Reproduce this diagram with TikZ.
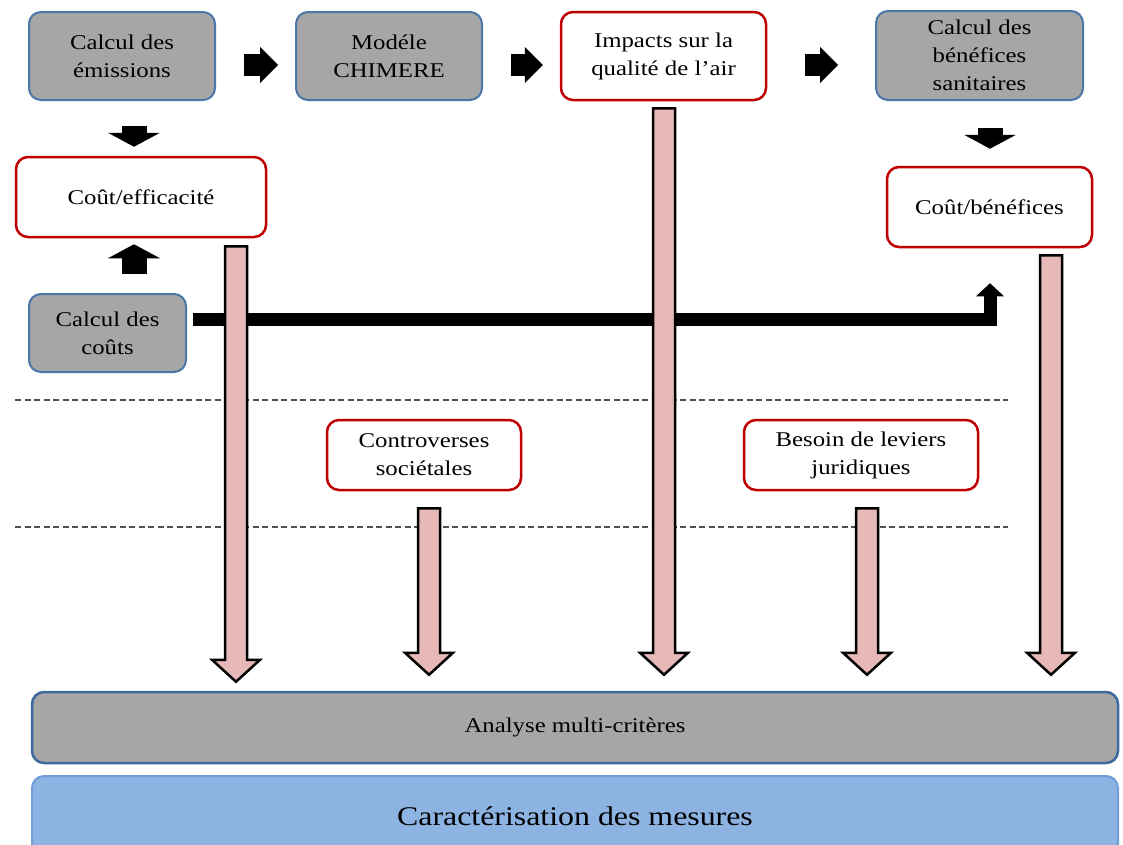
\documentclass[tikz,border=0pt]{standalone}
\usepackage{fontspec}
\setmainfont{Liberation Serif}[FakeStretch=1.18]
\usetikzlibrary{arrows.meta,calc}
\definecolor{boxgray}{HTML}{A6A6A6}
\definecolor{boxblue}{HTML}{4A76A8}
\definecolor{boxred}{HTML}{C00000}
\definecolor{pinkf}{HTML}{E6B9B8}
\definecolor{lightblue}{HTML}{8DB3E2}
\definecolor{lightblueb}{HTML}{6F9FD8}
\definecolor{darkblueb}{HTML}{3D6A9E}
\definecolor{dashgray}{HTML}{505050}
\newcommand\pinkarrow[2]{%
  \draw[pinkarr] ($(#1)+(-11,0)$) -- ($(#1)+(11,0)$) -- ($(#2)+(11,-22)$) -- ($(#2)+(24,-22)$)
    -- (#2) -- ($(#2)+(-24,-22)$) -- ($(#2)+(-11,-22)$) -- cycle;}
\begin{document}
\begin{tikzpicture}[x=1pt,y=-1pt,
  base/.style={rounded corners=12pt, align=center, inner sep=0pt, font=\fontsize{21}{28}\selectfont, text=black},
  graybox/.style={base, fill=boxgray, draw=boxblue, line width=2pt},
  redbox/.style={base, fill=white, draw=boxred, line width=2.5pt},
  rarrow/.style={draw=black, line width=22pt, -{Triangle[width=36pt,length=18pt,line width=0pt]}},
  darrow/.style={draw=black, line width=25pt, -{Triangle[width=52pt,length=14pt,line width=0pt]}},
  bline/.style={draw=black, line width=13pt, line join=miter, -{Triangle[width=28pt,length=13pt,line width=0pt]}},
  pinkarr/.style={fill=pinkf, draw=black, line width=2.5pt, line join=miter},
  dashline/.style={draw=dashgray, line width=1.5pt, dash pattern=on 6pt off 3.5pt}
]
\useasboundingbox (0,0) rectangle (1123,844);
\clip (0,0) rectangle (1123,844);

% top row
\node[graybox, minimum width=186pt, minimum height=88pt] (e) at (122,56) {Calcul des\\émissions};
\node[graybox, minimum width=186pt, minimum height=88pt] (m) at (389,56) {Modéle\\CHIMERE};
\node[redbox, minimum width=205pt, minimum height=88pt] (q) at (663.5,56) {Impacts sur la\\qualité de l’air};
\node[graybox, minimum width=207pt, minimum height=89pt] (b) at (979.5,55.5) {Calcul des\\bénéfices\\sanitaires};

% second row
\node[redbox, minimum width=250pt, minimum height=80pt] (ce) at (141,197) {Coût/efficacité};
\node[redbox, minimum width=205pt, minimum height=80pt] (cb) at (989.5,207) {Coût/bénéfices};
\node[graybox, minimum width=157pt, minimum height=78pt] (cc) at (107.5,333) {Calcul des\\coûts};

% middle row
\node[redbox, minimum width=194pt, minimum height=70pt] (cs) at (424,455) {Controverses\\sociétales};
\node[redbox, minimum width=234pt, minimum height=70pt] (bj) at (861,455) {Besoin de leviers\\juridiques};

% bottom bars
\node[base, fill=boxgray, draw=darkblueb, line width=2.5pt, minimum width=1086pt, minimum height=71pt] (am) at (575,727.5) {Analyse multi-critères};
\node[base, fill=lightblue, draw=lightblueb, line width=2pt, minimum width=1086pt, minimum height=80pt, font=\fontsize{27}{32}\selectfont] (cm) at (575,816) {Caractérisation des mesures};

% dashed separators
\coordinate (d1l) at (15,400); \coordinate (d1r) at (1008,400);
\coordinate (d2l) at (15,527); \coordinate (d2r) at (1008,527);
\draw[dashline] (d1l) -- (d1r);
\draw[dashline] (d2l) -- (d2r);

% black block arrows
\draw[rarrow] ($(e.east)+(28,9)$) -- ($(m.west)+(-17,9)$);
\draw[rarrow] ($(m.east)+(28,9)$) -- ($(q.west)+(-17,9)$);
\draw[rarrow] ($(q.east)+(38,9)$) -- ($(b.west)+(-37,9.5)$);
\draw[darrow] ($(e.south)+(12,25)$) -- ($(ce.north)+(-7,-9)$);
\draw[darrow] ($(cc.north)+(26.5,-19)$) -- ($(ce.south)+(-7,6)$);
\draw[darrow] ($(b.south)+(10.5,27)$) -- ($(cb.north)+(0.5,-17)$);
\draw[bline] ($(cc.east)+(6,-14)$) -| ($(cb.south)+(0.5,35)$);

% pink arrows to the analysis bar
\coordinate (a1s) at ($(ce.south)+(95,8)$);
\coordinate (a1t) at ($(a1s |- am.north)+(0,-9)$);
\coordinate (a2s) at ($(cs.south)+(5,17)$);
\coordinate (a2t) at ($(a2s |- am.north)+(0,-16)$);
\coordinate (a3s) at ($(q.south)+(0.5,7)$);
\coordinate (a3t) at ($(a3s |- am.north)+(0,-16)$);
\coordinate (a4s) at ($(bj.south)+(6,17)$);
\coordinate (a4t) at ($(a4s |- am.north)+(0,-16)$);
\coordinate (a5s) at ($(cb.south)+(61.5,7)$);
\coordinate (a5t) at ($(a5s |- am.north)+(0,-16)$);
\pinkarrow{a1s}{a1t}
\pinkarrow{a2s}{a2t}
\pinkarrow{a3s}{a3t}
\pinkarrow{a4s}{a4t}
\pinkarrow{a5s}{a5t}
\end{tikzpicture}
\end{document}
